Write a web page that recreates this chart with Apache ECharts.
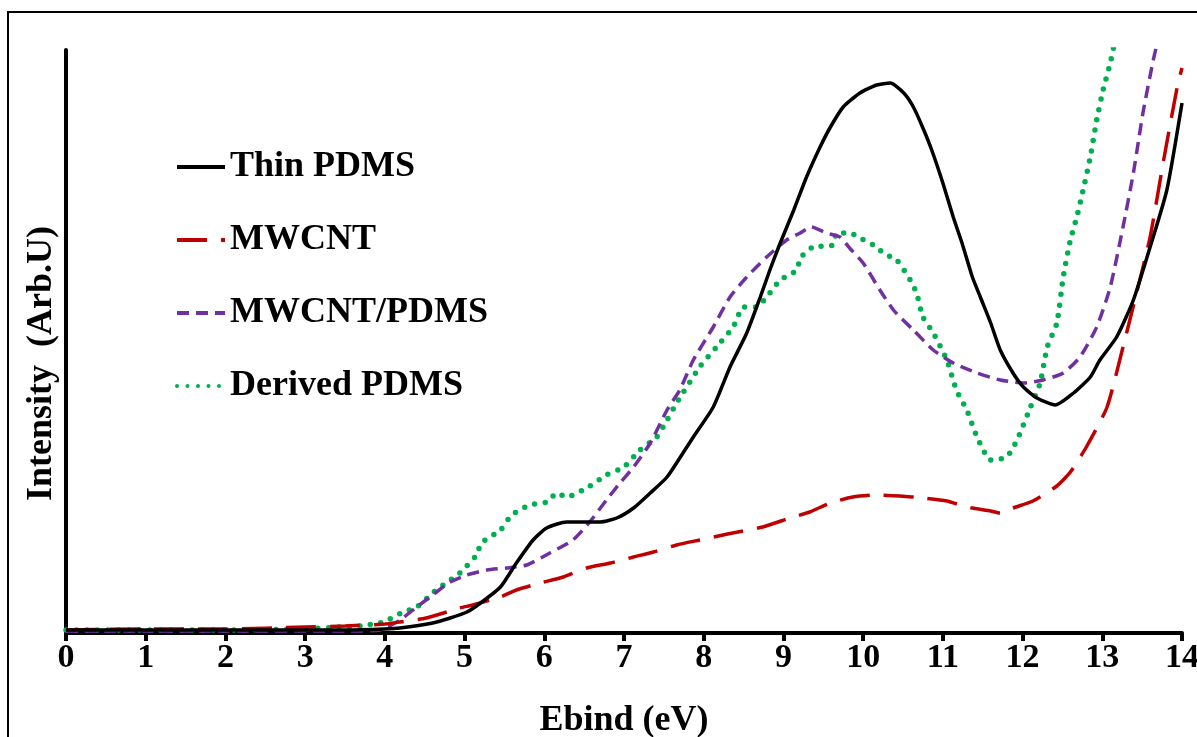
<!DOCTYPE html>
<html>
<head>
<meta charset="utf-8">
<script src="https://cdn.jsdelivr.net/npm/echarts@6/dist/echarts.min.js"></script>
<style>
  html, body { margin: 0; padding: 0; background: #fff; }
  #chart { width: 1197px; height: 737px; }
</style>
</head>
<body>
<div id="chart"></div>
<script>
    // Ebind (eV) positions and intensities (arb. units)
    var thinX = [0, 1, 2, 3, 3.5, 4, 4.19, 4.6, 4.82, 5.03, 5.2, 5.45, 5.65, 5.86, 6.03, 6.28, 6.49, 6.7, 6.91, 7.12, 7.33, 7.54, 7.74, 7.87, 8.12, 8.33, 8.54, 8.71, 8.83, 8.96, 9.13, 9.29, 9.46, 9.59, 9.75, 9.96, 10.17, 10.34, 10.51, 10.63, 10.75, 10.86, 11.0, 11.13, 11.24, 11.37, 11.47, 11.6, 11.72, 11.88, 12.01, 12.18, 12.41, 12.64, 12.85, 12.97, 13.18, 13.39, 13.6, 13.81, 14.0];
    var thinY = [3, 3, 3, 3, 3, 4, 5, 10, 15, 21, 30, 46, 70, 93, 105, 111, 111, 111, 115, 125, 140, 156, 180, 196, 226, 266, 300, 336, 363, 390, 423, 456, 486, 506, 526, 540, 548, 550, 540, 526, 505, 483, 450, 416, 390, 356, 336, 310, 283, 260, 246, 235, 228, 240, 256, 273, 296, 333, 386, 443, 530];

    var mwcntX = [0, 1, 2, 3, 3.5, 4, 4.19, 4.52, 4.94, 5.1, 5.45, 5.65, 5.95, 6.24, 6.53, 6.83, 7.12, 7.37, 7.66, 7.95, 8.3, 8.74, 9.08, 9.33, 9.59, 9.87, 10.17, 10.46, 10.76, 11.05, 11.3, 11.6, 11.72, 11.88, 12.13, 12.43, 12.6, 12.8, 13.06, 13.26, 13.43, 13.6, 13.77, 13.94, 14.0];
    var mwcntY = [3, 4, 4, 6, 7, 9, 11, 15, 25, 28, 36, 43, 50, 56, 65, 70, 76, 81, 88, 93, 99, 106, 115, 121, 130, 136, 138, 137, 135, 132, 126, 122, 120, 125, 132, 147, 161, 186, 226, 286, 340, 396, 473, 546, 565];

    var compX = [0, 1, 2, 3, 3.5, 3.94, 4.19, 4.4, 4.6, 4.82, 5.03, 5.28, 5.53, 5.78, 6.07, 6.36, 6.57, 6.78, 6.95, 7.12, 7.33, 7.54, 7.7, 7.87, 8.12, 8.33, 8.54, 8.79, 9.04, 9.21, 9.35, 9.54, 9.71, 9.83, 10.0, 10.21, 10.38, 10.63, 10.88, 11.13, 11.43, 11.72, 12.01, 12.26, 12.51, 12.72, 12.93, 13.1, 13.26, 13.39, 13.51, 13.64, 13.72];
    var compY = [2, 2, 2, 2, 2, 3, 13, 26, 38, 51, 58, 63, 65, 68, 80, 93, 111, 133, 150, 166, 190, 223, 243, 273, 306, 336, 356, 376, 393, 400, 406, 400, 396, 385, 370, 343, 323, 303, 283, 270, 260, 253, 250, 253, 260, 276, 306, 346, 406, 460, 520, 573, 600];

    var derivedX = [0, 1, 2, 3, 3.44, 3.69, 3.98, 4.23, 4.4, 4.6, 4.73, 4.94, 5.15, 5.21, 5.45, 5.59, 5.82, 6.03, 6.16, 6.28, 6.53, 6.78, 7.0, 7.2, 7.41, 7.54, 7.66, 7.95, 8.16, 8.37, 8.5, 8.66, 8.79, 8.96, 9.17, 9.21, 9.37, 9.62, 9.67, 9.83, 9.96, 10.17, 10.25, 10.42, 10.59, 10.67, 10.75, 10.88, 11.05, 11.17, 11.3, 11.43, 11.6, 11.8, 11.93, 12.1, 12.22, 12.31, 12.43, 12.51, 12.6, 12.68, 12.76, 12.85, 12.93, 13.01, 13.1, 13.18];
    var derivedY = [3, 3, 3, 4, 6, 7, 11, 21, 26, 40, 48, 60, 78, 90, 103, 118, 128, 131, 140, 136, 145, 158, 166, 183, 196, 213, 230, 266, 286, 306, 326, 326, 336, 353, 363, 375, 386, 388, 400, 400, 395, 386, 380, 373, 353, 340, 316, 300, 273, 243, 223, 196, 173, 176, 193, 226, 250, 286, 310, 356, 393, 416, 443, 476, 513, 543, 570, 600];

    var xTicks = [0, 1, 2, 3, 4, 5, 6, 7, 8, 9, 10, 11, 12, 13, 14];

    function pairs(xs, ys) {
        var out = [];
        for (var i = 0; i < xs.length; i++) {
            out.push([xs[i], ys[i]]);
        }
        return out;
    }

    var serifBold = {
        fontFamily: 'Liberation Serif',
        fontWeight: 'bold',
        color: '#000'
    };

    var chart = echarts.init(document.getElementById('chart'), null, { renderer: 'canvas' });
    var option = {
        backgroundColor: '#fff',
        animation: false,
        grid: {
            left: 66,
            right: 15,
            top: 50,
            bottom: 104,
            containLabel: false,
            outerBoundsMode: 'none'   // keep the plot box fixed, the axis title may run off the bottom
        },
        graphic: [{
            type: 'rect',
            shape: { x: 8, y: 12, width: 1300, height: 900 },
            style: { fill: 'none', stroke: '#000', lineWidth: 2 },
            z: -10
        }],
        legend: {
            orient: 'vertical',
            left: 170,
            top: 144,
            itemWidth: 48,
            itemHeight: 14,
            itemGap: 37,
            itemTextGap: 6,
            itemStyle: { opacity: 0 },   // hide the circle marker, keep the line sample
            lineStyle: { width: 4 },
            textStyle: {
                fontFamily: 'Liberation Serif',
                fontWeight: 'bold',
                fontSize: 36,
                color: '#000'
            },
            data: ['Thin PDMS', 'MWCNT', 'MWCNT/PDMS', 'Derived PDMS']
        },
        xAxis: {
            type: 'value',
            min: 0,
            max: 14,
            interval: 1,
            name: 'Ebind (eV)',
            nameLocation: 'middle',
            nameGap: 70,
            nameTextStyle: Object.assign({ fontSize: 36 }, serifBold),
            axisLine: { lineStyle: { color: '#000', width: 4 } },
            axisTick: { show: true, inside: false, length: 8, lineStyle: { color: '#000', width: 4 } },
            axisLabel: Object.assign({ fontSize: 34, margin: 8, formatter: function (v) { return xTicks.indexOf(v) >= 0 ? String(v) : ''; } }, serifBold),
            splitLine: { show: false }
        },
        yAxis: {
            type: 'value',
            min: 0,
            max: 583,
            name: 'Intensity  (Arb.U)',
            nameLocation: 'middle',
            nameRotate: 90,
            nameGap: 6,
            nameTextStyle: Object.assign({ fontSize: 36, padding: [0, 44, 0, 0] }, serifBold),
            axisLine: { show: true, lineStyle: { color: '#000', width: 4 } },
            axisTick: { show: false },
            axisLabel: { show: false },
            splitLine: { show: false }
        },
        series: [
            {
                name: 'Thin PDMS',
                type: 'line',
                showSymbol: false,
                symbol: 'none',
                smooth: 0.2,
                data: pairs(thinX, thinY),
                lineStyle: { color: '#000000', width: 3.5 },
                itemStyle: { color: '#000000' },
                z: 4
            },
            {
                name: 'MWCNT',
                type: 'line',
                showSymbol: false,
                symbol: 'none',
                smooth: 0.2,
                data: pairs(mwcntX, mwcntY),
                lineStyle: { color: '#c00000', width: 3.5, type: [30, 14] },
                itemStyle: { color: '#c00000' },
                z: 3
            },
            {
                name: 'MWCNT/PDMS',
                type: 'line',
                showSymbol: false,
                symbol: 'none',
                smooth: 0.2,
                data: pairs(compX, compY),
                lineStyle: { color: '#7030a0', width: 3.5, type: [12, 7] },
                itemStyle: { color: '#7030a0' },
                z: 2
            },
            {
                name: 'Derived PDMS',
                type: 'line',
                showSymbol: false,
                symbol: 'none',
                smooth: 0.2,
                data: pairs(derivedX, derivedY),
                lineStyle: { color: '#00b050', width: 5.5, type: [0, 10.5], cap: 'round' },
                itemStyle: { color: '#00b050' },
                z: 1
            }
        ]
    };
    chart.setOption(option);
</script>
</body>
</html>
